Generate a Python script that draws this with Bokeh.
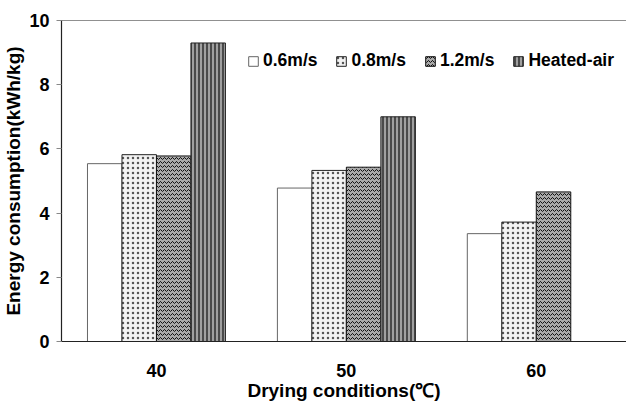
import math
from bokeh.plotting import figure
from bokeh.models import ColumnDataSource, FixedTicker, Legend, LegendItem, Span
from bokeh.embed import file_html
from bokeh.resources import INLINE

categories = ["40", "50", "60"]
series_names = ["0.6m/s", "0.8m/s", "1.2m/s", "Heated-air"]
v06 = [5.54, 4.78, 3.36]
v08 = [5.82, 5.33, 3.72]
v12 = [5.78, 5.43, 4.66]
heated = [9.30, 7.00, float("nan")]
y_ticks = [0, 2, 4, 6, 8, 10]

FONT = "Liberation Sans"
centers = [i + 0.5 for i in range(len(categories))]
bw = 0.1816
offsets = [-1.5 * bw, -0.5 * bw, 0.5 * bw, 1.5 * bw]

p = figure(width=626, height=403, output_backend="svg", toolbar_location=None,
           x_range=(0, 2.975), y_range=(0, 10),
           min_border_left=61, min_border_right=0, min_border_top=20, min_border_bottom=59)
p.outline_line_color = None
p.grid.visible = False
p.background_fill_color = "white"
p.border_fill_color = "white"

styles = [
    dict(fill_color="white", line_color="#666666"),
    dict(fill_color="#f3f3f3", hatch_pattern="dot", hatch_color="#555555", hatch_scale=5, hatch_weight=0.5, line_color="#222222"),
    dict(fill_color="#aaaaaa", hatch_pattern="horizontal_wave", hatch_color="#111111", hatch_scale=4, hatch_weight=1, line_color="#111111"),
    dict(fill_color="#a0a0a0", hatch_pattern="vertical_line", hatch_color="#4a4a4a", hatch_scale=4, hatch_weight=2, line_color="#222222"),
]
values = [v06, v08, v12, heated]
items = []
for name, vals, off, st in zip(series_names, values, offsets, styles):
    xs = [c + off for c in centers]
    keep = [(x, v) for x, v in zip(xs, vals) if not (isinstance(v, float) and math.isnan(v))]
    src = ColumnDataSource(dict(x=[k[0] for k in keep], top=[k[1] for k in keep]))
    r = p.vbar(x="x", top="top", bottom=0, width=bw, source=src, line_width=1, **st)
    items.append(LegendItem(label=name, renderers=[r]))

p.add_layout(Span(location=10, dimension="width", line_color="#222222", line_width=1.2))

legend = Legend(items=items, orientation="horizontal",
                label_text_font=FONT, label_text_font_style="bold", label_text_font_size="17.5px",
                label_text_color="black", glyph_width=12, glyph_height=12, spacing=18,
                label_standoff=4, border_line_color=None, background_fill_alpha=0,
                margin=0, padding=0)
p.add_layout(legend, "center")
legend.location = (186, 270)

ax = p.xaxis[0]
ax.ticker = FixedTicker(ticks=centers)
ax.major_label_overrides = {c: lab for c, lab in zip(centers, categories)}
ax.major_tick_line_color = None
ax.minor_tick_line_color = None
ax.axis_line_color = "#222222"
ax.axis_line_width = 1.2
ax.major_label_text_font = FONT
ax.major_label_text_font_style = "bold"
ax.major_label_text_font_size = "18px"
ax.major_label_text_color = "black"
ax.major_label_standoff = 16
ax.axis_label = "Drying conditions(℃)"
ax.axis_label_text_font = FONT
ax.axis_label_text_font_style = "bold"
ax.axis_label_text_font_size = "19px"
ax.axis_label_text_color = "black"
ax.axis_label_standoff = 0

ay = p.yaxis[0]
ay.ticker = FixedTicker(ticks=y_ticks)
ay.major_tick_in = 0
ay.major_tick_out = 5
ay.major_tick_line_color = "#888888"
ay.minor_tick_line_color = None
ay.axis_line_color = "#222222"
ay.axis_line_width = 1.2
ay.major_label_text_font = FONT
ay.major_label_text_font_style = "bold"
ay.major_label_text_font_size = "18px"
ay.major_label_text_color = "black"
ay.major_label_standoff = 7
ay.axis_label = "Energy consumption(kWh/kg)"
ay.axis_label_text_font = FONT
ay.axis_label_text_font_style = "bold"
ay.axis_label_text_font_size = "19px"
ay.axis_label_text_color = "black"
ay.axis_label_standoff = 2

open("out.html", "w").write(file_html(p, INLINE))
